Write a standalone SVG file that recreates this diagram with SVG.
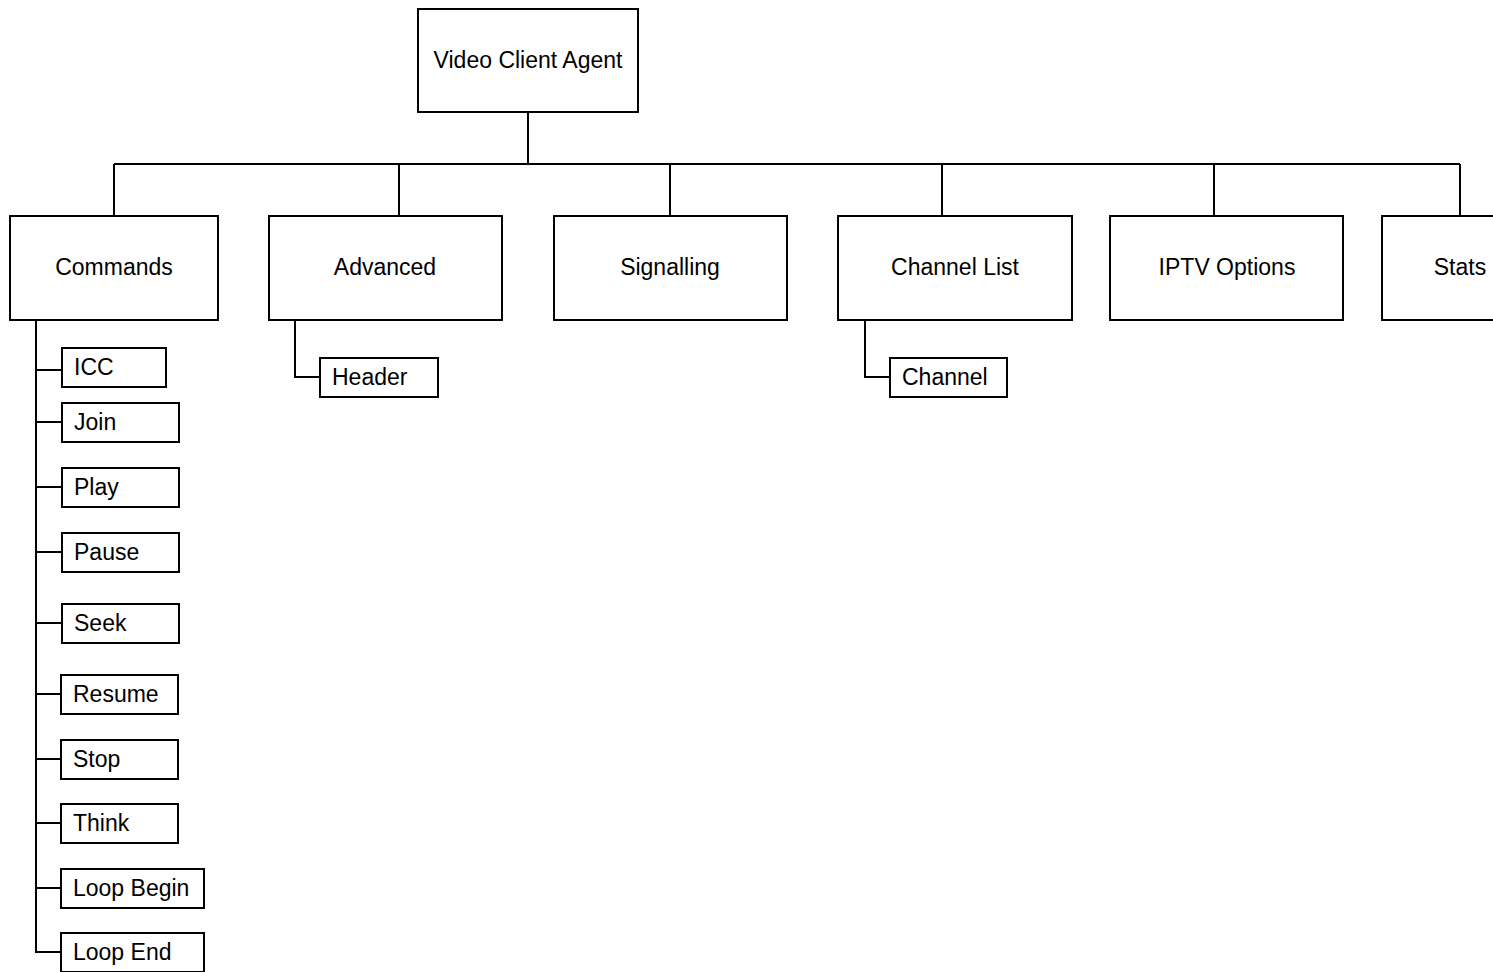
<svg xmlns="http://www.w3.org/2000/svg" width="1493" height="972" viewBox="0 0 1493 972">
<style>
.b{fill:#fff;stroke:#000;stroke-width:2}
.c{fill:none;stroke:#000;stroke-width:2}
.t{font-family:"Liberation Sans",Arial,sans-serif;font-size:23px;fill:#000}
.m{text-anchor:middle}
</style>
<rect width="1493" height="972" fill="#fff"/>
<g id="connectors">
<path class="c" d="M528 112V164M114 164H1460M114 164V216M399 164V216M670 164V218M942 164V218M1214 164V218M1460 164V219"/>
<path class="c" d="M36 320V952H61M36 370H62M36 422H62M36 487H62M36 552H62M36 623H62M36 694H61M36 759H61M36 823H61M36 888H61"/>
<path class="c" d="M295 320V377H320M865 320V377H890"/>
</g>
<g id="root"><rect class="b" x="418" y="9" width="220" height="103"/><text class="t m" x="528" y="68">Video Client Agent</text></g>
<g id="commands"><rect class="b" x="10" y="216" width="208" height="104"/><text class="t m" x="114" y="275">Commands</text></g>
<g id="advanced"><rect class="b" x="269" y="216" width="233" height="104"/><text class="t m" x="385" y="275">Advanced</text></g>
<g id="signalling"><rect class="b" x="554" y="216" width="233" height="104"/><text class="t m" x="670" y="275">Signalling</text></g>
<g id="channellist"><rect class="b" x="838" y="216" width="234" height="104"/><text class="t m" x="955" y="275">Channel List</text></g>
<g id="iptv"><rect class="b" x="1110" y="216" width="233" height="104"/><text class="t m" x="1227" y="275">IPTV Options</text></g>
<g id="stats"><rect class="b" x="1382" y="216" width="130" height="104"/><text class="t m" x="1460" y="275">Stats</text></g>
<g id="icc"><rect class="b" x="62" y="348" width="104" height="39"/><text class="t" x="74" y="375">ICC</text></g>
<g id="join"><rect class="b" x="62" y="403" width="117" height="39"/><text class="t" x="74" y="430">Join</text></g>
<g id="play"><rect class="b" x="62" y="468" width="117" height="39"/><text class="t" x="74" y="495">Play</text></g>
<g id="pause"><rect class="b" x="62" y="533" width="117" height="39"/><text class="t" x="74" y="560">Pause</text></g>
<g id="seek"><rect class="b" x="62" y="604" width="117" height="39"/><text class="t" x="74" y="631">Seek</text></g>
<g id="resume"><rect class="b" x="61" y="675" width="117" height="39"/><text class="t" x="73" y="702">Resume</text></g>
<g id="stop"><rect class="b" x="61" y="740" width="117" height="39"/><text class="t" x="73" y="767">Stop</text></g>
<g id="think"><rect class="b" x="61" y="804" width="117" height="39"/><text class="t" x="73" y="831">Think</text></g>
<g id="loopbegin"><rect class="b" x="61" y="869" width="143" height="39"/><text class="t" x="73" y="896">Loop Begin</text></g>
<g id="loopend"><rect class="b" x="61" y="933" width="143" height="39"/><text class="t" x="73" y="960">Loop End</text></g>
<g id="header"><rect class="b" x="320" y="358" width="118" height="39"/><text class="t" x="332" y="385">Header</text></g>
<g id="channel"><rect class="b" x="890" y="358" width="117" height="39"/><text class="t" x="902" y="385">Channel</text></g>
</svg>
